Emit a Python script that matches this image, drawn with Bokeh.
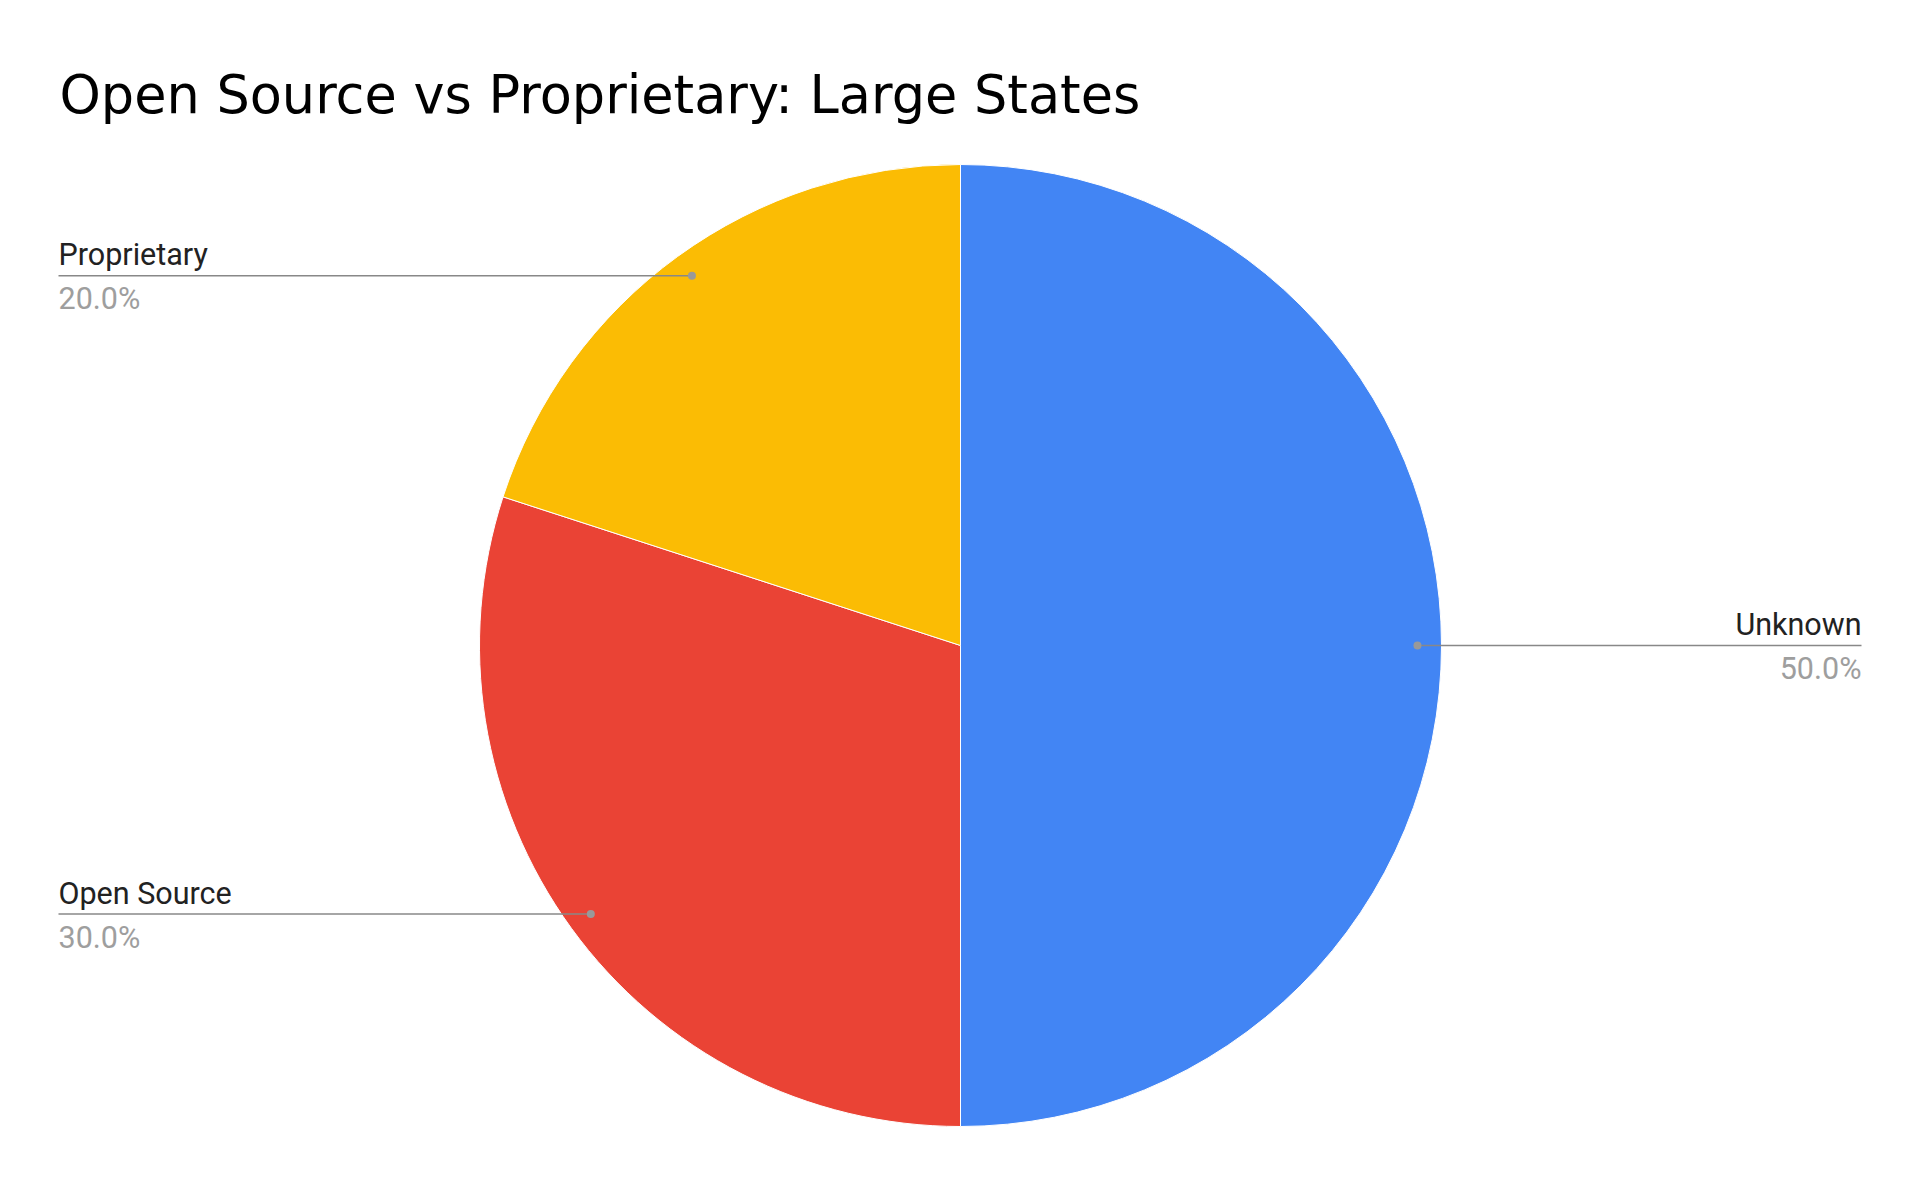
import math
from bokeh.plotting import figure
from bokeh.models import Range1d, ColumnDataSource
from bokeh.core.properties import value
from bokeh.embed import file_html
from bokeh.resources import INLINE

# ---- data ----
title = "Open Source vs Proprietary: Large States"
categories = ["Unknown", "Open Source", "Proprietary"]
shares = [50.0, 30.0, 20.0]
colors = ["#4285F4", "#EA4335", "#FBBC04"]

# ---- layout (screen pixels) ----
W, H = 1904, 1170
def Y(py):
    return H - py

cx, cy_page, R = 960, 645, 481
cy = Y(cy_page)
left_x, right_x = 58, 1861

p = figure(width=W, height=H, output_backend="svg", toolbar_location=None,
           x_range=Range1d(0, W), y_range=Range1d(0, H),
           min_border=0)
p.axis.visible = False
p.grid.visible = False
p.outline_line_color = None
p.background_fill_color = "white"
p.border_fill_color = "white"

total = sum(shares)
starts, ends, mids = [], [], []
acc = 0.0
for v in shares:
    a0 = math.pi / 2 - 2 * math.pi * acc / total
    acc += v
    a1 = math.pi / 2 - 2 * math.pi * acc / total
    starts.append(a0)
    ends.append(a1)
    mids.append((a0 + a1) / 2)

src = ColumnDataSource(dict(x=[cx] * len(shares), y=[cy] * len(shares),
                            start=starts, end=ends, color=colors))
p.wedge(x="x", y="y", radius=R, start_angle="start", end_angle="end",
        direction="clock", fill_color="color", line_color="white",
        line_width=1, source=src)

font = value("Roboto")
for cat, v, m in zip(categories, shares, mids):
    dx = cx + 0.95 * R * math.cos(m)
    dy = cy + 0.95 * R * math.sin(m)
    if math.cos(m) < -1e-6:
        ex, align, tx = left_x, "left", left_x
    else:
        ex, align, tx = right_x, "right", right_x
    p.line([dx, ex], [dy, dy], line_color="#888888", line_width=1.5)
    p.scatter([dx], [dy], size=8, fill_color="#999999", line_color=None)
    p.text([tx], [dy + 21], text=[cat], text_font=font, text_font_size="30.5px",
           text_color="#222222", text_align=align, text_baseline="alphabetic")
    p.text([tx], [dy - 23], text=[f"{v:.1f}%"], text_font=font,
           text_font_size="30.5px", text_color="#9E9E9E", text_align=align,
           text_baseline="alphabetic")

p.text([59], [Y(94)], text=[title], text_font=value("DejaVu Sans"),
       text_font_size="52.5px", text_color="#000000", text_align="left",
       text_baseline="alphabetic")

open("out.html", "w").write(file_html(p, INLINE))
